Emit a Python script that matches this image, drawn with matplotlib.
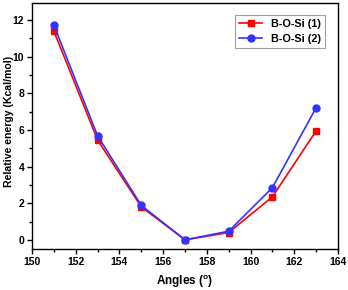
import matplotlib
matplotlib.use("Agg")
import matplotlib.pyplot as plt
from matplotlib.ticker import MultipleLocator

angles = [151, 153, 155, 157, 159, 161, 163]
bosi1 = [11.40, 5.45, 1.80, 0.00, 0.40, 2.35, 5.95]
bosi2 = [11.72, 5.68, 1.88, 0.00, 0.47, 2.85, 7.22]

plt.rcParams['font.family'] = ['Arial', 'Liberation Sans', 'DejaVu Sans']
plt.rcParams['font.weight'] = 'bold'
plt.rcParams['mathtext.default'] = 'regular'

fig = plt.figure(figsize=(3.48, 2.90), dpi=100)
ax = fig.add_axes([32/348, 1-249/290, (338-32)/348, (249-3)/290])

ax.plot(angles, bosi1, color='#ff0000', marker='s', markersize=4.5, lw=1.2, label='B-O-Si (1)')
ax.plot(angles, bosi2, color='#3333ff', marker='o', markersize=5, lw=1.2, label='B-O-Si (2)')

ax.set_xlim(150, 164)
ax.set_ylim(-0.5, 12.93)
ax.xaxis.set_major_locator(MultipleLocator(2))
ax.xaxis.set_minor_locator(MultipleLocator(1))
ax.yaxis.set_major_locator(MultipleLocator(2))
ax.yaxis.set_minor_locator(MultipleLocator(1))
ax.tick_params(which='major', length=3.5, width=1, labelsize=7.5, pad=2)
ax.tick_params(which='minor', length=2, width=1)
for lab in ax.get_xticklabels() + ax.get_yticklabels():
    lab.set_fontweight('bold')
for s in ax.spines.values():
    s.set_linewidth(1.0)

ax.set_xlabel('Angles ($^{o}$)', fontsize=8.5, fontweight='bold')
ax.xaxis.set_label_coords(0.5, -0.1)
ax.set_ylabel('Relative energy (Kcal/mol)', fontsize=7.6, fontweight='bold')
ax.yaxis.set_label_coords(-0.06, 0.52)

leg = ax.legend(loc='upper right', fontsize=7.8, frameon=True, fancybox=False,
                edgecolor='#888888', borderpad=0.4, handlelength=2.1,
                bbox_to_anchor=(0.975, 0.975), labelspacing=0.45)
leg.get_frame().set_linewidth(0.8)
for t in leg.get_texts():
    t.set_fontweight('bold')

fig.savefig('out.png', dpi=100)
